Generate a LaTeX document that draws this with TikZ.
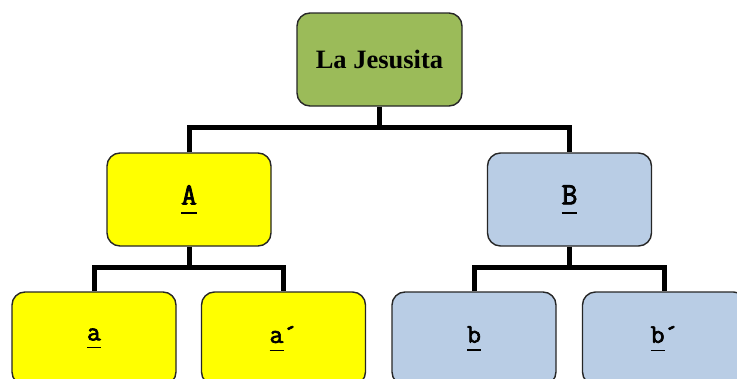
\documentclass[tikz,border=0pt]{standalone}
\usepackage{fontspec}
\setmainfont{Liberation Serif}
\newfontfamily\courb{Latin Modern Mono}[FakeBold=2.5]
\definecolor{lgreen}{HTML}{9BBB59}
\definecolor{lblue}{HTML}{B9CDE5}
\definecolor{lyellow}{HTML}{FFFF00}
\newcommand\ulx[1]{\setbox0\hbox{#1}\rlap{\rule[-0.3em]{\wd0}{1.4pt}}\box0}
\begin{document}
\begin{tikzpicture}[x=1pt,y=-1pt,
  box/.style={draw=black!85, line width=1.4pt, rounded corners=13pt,
    minimum width=164pt, minimum height=93pt, inner sep=0pt, anchor=center},
  conn/.style={line width=5pt, black},
  bigtt/.style={font=\fontsize{31}{34}\selectfont\courb},
  smalltt/.style={font=\fontsize{27}{30}\selectfont\courb}]
\useasboundingbox (0,0) rectangle (737,378);
\clip (0,0) rectangle (737,378);
\node[box, fill=lgreen, minimum width=165pt, font=\fontsize{26.5}{30}\selectfont\bfseries] (top) at (379.5,59.5) {La Jesusita};
\node[box, fill=lyellow, bigtt] (A) at (189,199.5) {\ulx{A}};
\node[box, fill=lblue, bigtt] (B) at (569.5,199.5) {\ulx{B}};
\node[box, fill=lyellow, smalltt] (a) at (94,338.5) {\ulx{a}};
\node[box, fill=lyellow, smalltt] (a2) at (283.5,338.5) {\ulx{a}´};
\node[box, fill=lblue, smalltt] (b) at (474,338.5) {\ulx{b}};
\node[box, fill=lblue, smalltt] (b2) at (664.5,338.5) {\ulx{b}´};
\draw[conn] (top.south) -- ++(0,21) coordinate (j1);
\draw[conn] (A.north) |- (j1) -| (B.north);
\draw[conn] (A.south) -- ++(0,21) coordinate (j2);
\draw[conn] (a.north) |- (j2) -| (a2.north);
\draw[conn] (B.south) -- ++(0,21) coordinate (j3);
\draw[conn] (b.north) |- (j3) -| (b2.north);
\end{tikzpicture}
\end{document}
